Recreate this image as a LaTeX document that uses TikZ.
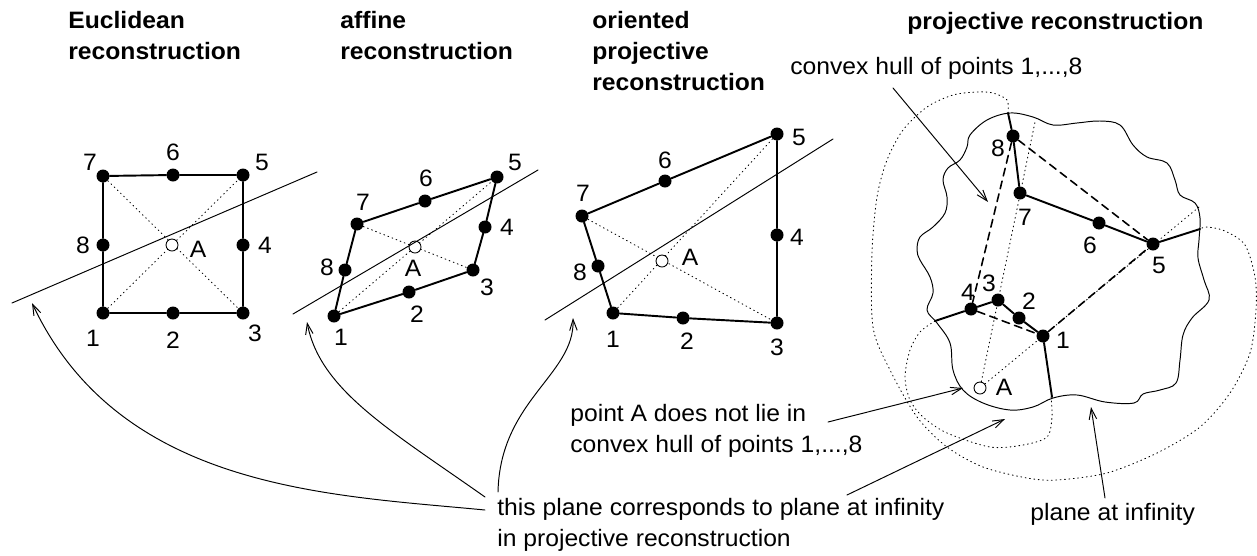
\documentclass[tikz,border=0pt]{standalone}
\usepackage{fontspec}
\setmainfont[FakeStretch=1.04]{Liberation Sans}
\usetikzlibrary{arrows.meta}
\tikzset{
  rc diagram/.style={x=0.02cm, y=-0.02cm, font=\fontsize{13.5}{17.6}\selectfont,
    line cap=round, line join=round},
  rc dot/.style={circle, fill=black, inner sep=0pt, minimum size=2.6mm},
  rc hole/.style={circle, draw=black, fill=white, line width=0.5pt,
    inner sep=0pt, minimum size=2.4mm},
  rc edge/.style={line width=1.1pt},
  rc diag/.style={line width=0.5pt, dotted},
  rc plane/.style={line width=0.55pt},
  rc hidden/.style={line width=0.9pt, dash pattern=on 4.5pt off 3pt},
  rc arrow/.style={line width=0.55pt, -{Straight Barb[length=2.2mm,width=1.5mm]}},
  rc label/.style={inner sep=0pt},
  rc title/.style={font=\fontsize{13.5}{17.6}\selectfont\bfseries, align=left,
    anchor=north west, inner sep=0pt},
  rc note/.style={align=left, anchor=north west, inner sep=0pt}
}

\begin{document}
\begin{tikzpicture}[rc diagram]
\useasboundingbox (0,0) rectangle (1257,555);

% titles
\node[rc title] (eutitle) at (68,11) {Euclidean\\reconstruction};
\node[rc title] (aftitle) at (340,11) {affine\\reconstruction};
\node[rc title] (optitle) at (592,11) {oriented\\projective\\reconstruction};
\node[rc title] (prtitle) at (907,12) {projective reconstruction};

% Euclidean
\foreach \n/\x/\y/\lx/\ly in {1/103/313/93/338, 2/173/313/173/340,
    3/243/313/255/333, 4/243/245/265/245, 5/243/175/262/162,
    6/173/175/173/152, 7/103/176/90/162, 8/103/245/83/245}{
  \node[rc dot] (eu\n) at (\x,\y) {};
  \node[rc label] (eul\n) at (\lx,\ly) {\n};
}
\draw[rc edge] (eu1) -- (eu2) -- (eu3) -- (eu4) -- (eu5) -- (eu6) -- (eu7) -- (eu8) -- (eu1);
\draw[rc diag] (eu7) -- (eu3) (eu1) -- (eu5);
\node[rc hole] (euA) at (172,245) {};
\node[rc label] (eulA) at (198,249) {A};
\coordinate (eup1) at (12,303);
\coordinate (eup2) at (317,172);
\draw[rc plane] (eup1) -- (eup2);

% affine
\foreach \n/\x/\y/\lx/\ly in {1/334/316/341/337, 2/409/292/417/314,
    3/473/270/487/287, 4/485/227/507/227, 5/497/177/515/162,
    6/425/201/426/178, 7/357/224/363/202, 8/345/270/327/267}{
  \node[rc dot] (af\n) at (\x,\y) {};
  \node[rc label] (afl\n) at (\lx,\ly) {\n};
}
\draw[rc edge] (af1) -- (af2) -- (af3) -- (af4) -- (af5) -- (af6) -- (af7) -- (af8) -- (af1);
\draw[rc diag] (af7) -- (af3) (af1) -- (af5);
\node[rc hole] (afA) at (415,247) {};
\node[rc label] (aflA) at (413,268) {A};
\coordinate (afp1) at (293,314);
\coordinate (afp2) at (538,170);
\draw[rc plane] (afp1) -- (afp2);

% oriented projective
\foreach \n/\x/\y/\lx/\ly in {1/613/313/613/339, 2/683/318/687/341,
    3/777/323/777/347, 4/777/235/797/237, 5/777/134/799/137,
    6/665/181/665/160, 7/582/216/583/193, 8/598/266/580/272}{
  \node[rc dot] (op\n) at (\x,\y) {};
  \node[rc label] (opl\n) at (\lx,\ly) {\n};
}
\draw[rc edge] (op1) -- (op2) -- (op3) -- (op4) -- (op5) -- (op6) -- (op7) -- (op8) -- (op1);
\draw[rc diag] (op7) -- (op3) (op1) -- (op5);
\node[rc hole] (opA) at (662,261) {};
\node[rc label] (oplA) at (690,257) {A};
\coordinate (opp1) at (545,320);
\coordinate (opp2) at (833,139);
\draw[rc plane] (opp1) -- (opp2);

% projective
\draw[rc plane] plot[smooth cycle, tension=0.6] coordinates {
  (1010,113) (1033,117) (1053,125) (1077,123) (1100,121) (1120,125)
  (1133,145) (1147,157) (1167,163) (1175,180) (1180,195) (1195,203)
  (1200,218) (1199,240) (1198,258) (1204,280) (1209,300) (1192,318)
  (1183,335) (1180,360) (1176,383) (1160,390) (1143,394) (1134,403)
  (1105,402) (1077,395) (1053,398) (1033,407) (1010,410) (983,403)
  (963,390) (953,370) (950,343) (937,323) (927,310) (933,293)
  (930,277) (920,260) (917,250) (920,237) (933,227) (945,213)
  (947,197) (943,180) (948,168) (960,160) (967,147) (970,135) (987,120)};
\draw[rc diag] plot[smooth] coordinates {
  (1008,113) (1007,100) (993,93) (977,92) (953,95) (927,107) (903,130)
  (887,160) (877,197) (872,253) (873,327) (890,370) (917,417) (947,447)
  (983,467) (1027,478) (1057,480) (1107,473) (1157,453) (1200,427)
  (1230,393) (1250,353) (1256,310) (1255,277) (1245,245) (1225,231)
  (1207,227) (1200,229)};
\draw[rc diag] plot[smooth] coordinates {
  (935,321) (920,332) (910,350) (905,377) (910,400) (923,417) (947,433)
  (990,447) (1023,445) (1047,437) (1052,417) (1051,397)};
\foreach \n/\x/\y/\lx/\ly in {1/1043/336/1063/340, 2/1019/318/1029/301,
    3/998/300/989/283, 4/971/309/968/292, 5/1153/244/1159/265,
    6/1099/223/1090/245, 7/1020/193/1025/217, 8/1013/136/998/148}{
  \node[rc dot] (pr\n) at (\x,\y) {};
  \node[rc label] (prl\n) at (\lx,\ly) {\n};
}
\node[rc hole] (prA) at (980,388) {};
\node[rc label] (prlA) at (1004,387) {A};
\coordinate (pr8w) at (1008,113);
\coordinate (pr5w) at (1200,229);
\coordinate (pr4w) at (935,321);
\coordinate (pr1w) at (1052,397);
\coordinate (prtop) at (1035,122);
\coordinate (prright) at (1199,207);
\draw[rc edge] (pr8w) -- (pr8) -- (pr7) -- (pr6) -- (pr5) -- (pr5w);
\draw[rc edge] (pr4w) -- (pr4) -- (pr3) -- (pr2) -- (pr1) -- (pr1w);
\draw[rc hidden] (pr8) -- (pr5) (pr8) -- (pr4) (pr4) -- (pr1) (pr1) -- (pr5);
\draw[rc diag] (prA) -- (prtop) (prA) -- (prright);

% notes
\node[rc note] (hullnote) at (790,57) {convex hull of points 1,...,8};
\node[rc note] (outnote) at (570,404) {point A does not lie in\\convex hull of points 1,...,8};
\node[rc note] (planenote) at (497,498) {this plane corresponds to plane at infinity\\in projective reconstruction};
\node[rc note] (infnote) at (1030,503) {plane at infinity};

% arrows
\coordinate (hullfoot) at (893,88);
\coordinate (hulltip) at (988,202);
\coordinate (outfoot) at (828,422);
\coordinate (outtip) at (963,388);
\coordinate (planefoot) at (847,495);
\coordinate (planetip) at (1005,419);
\coordinate (inffoot) at (1105,498);
\coordinate (inftip) at (1091,407);
\coordinate (eufoot) at (485,510);
\coordinate (eutip) at (32,303);
\coordinate (affoot) at (485,497);
\coordinate (aftip) at (307,322);
\coordinate (opfoot) at (498,492);
\coordinate (optip) at (573,318);
\draw[rc arrow] (hullfoot) -- (hulltip);
\draw[rc arrow] (outfoot) -- (outtip);
\draw[rc arrow] (planefoot) -- (planetip);
\draw[rc arrow] (inffoot) -- (inftip);
\draw[rc arrow] (eufoot) .. controls (330,495) and (120,490) .. (eutip);
\draw[rc arrow] (affoot) .. controls (390,430) and (320,390) .. (aftip);
\draw[rc arrow] (opfoot) .. controls (500,400) and (575,375) .. (optip);
\end{tikzpicture}
\end{document}
